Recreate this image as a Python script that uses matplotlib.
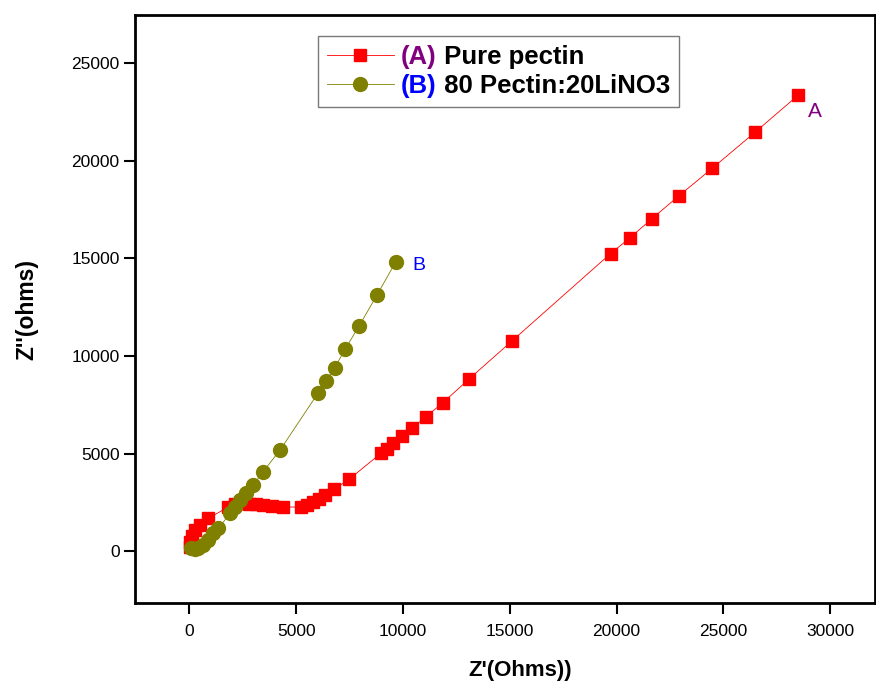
import matplotlib
matplotlib.use("Agg")
import matplotlib.pyplot as plt

plt.rcParams["font.family"] = ["Liberation Sans", "DejaVu Sans"]

# (A) Pure pectin
pure_x = [30, 50, 120, 280, 514, 890, 1800, 2150, 2450, 2800, 3100, 3450, 3850,
          4400, 5230, 5510, 5790, 6080, 6360, 6780, 7480, 8970, 9250, 9530, 9950,
          10420, 11060, 11870, 13080, 15090, 19720, 20610, 21640, 22900, 24470,
          26500, 28500]
pure_y = [200, 450, 800, 1080, 1330, 1690, 2250, 2400, 2450, 2420, 2400, 2360, 2310,
          2270, 2260, 2360, 2510, 2660, 2870, 3180, 3690, 5020, 5250, 5530, 5890,
          6300, 6880, 7610, 8810, 10760, 15250, 16040, 17020, 18190, 19610,
          21480, 23360]

# (B) 80 Pectin:20LiNO3
blend_x = [60, 250, 420, 650, 890, 1120, 1360, 1920, 2150, 2380, 2650, 2980, 3440,
           4250, 6010, 6400, 6810, 7290, 7940, 8770, 9660]
blend_y = [180, 120, 150, 310, 560, 920, 1180, 1950, 2250, 2610, 2970, 3380, 4060,
           5190, 8080, 8720, 9410, 10350, 11530, 13100, 14820]

x_ticks = [0, 5000, 10000, 15000, 20000, 25000, 30000]
y_ticks = [0, 5000, 10000, 15000, 20000, 25000]

fig = plt.figure(figsize=(8.76, 6.87), dpi=100)
ax = fig.add_axes([0.154, 0.122, 0.845, 0.856])

ax.plot(pure_x, pure_y, color="red", lw=0.6, marker="s", ms=8.5,
        mec="red", mfc="red", label="(A) Pure pectin")
ax.plot(blend_x, blend_y, color="#808000", lw=0.6, marker="o", ms=10,
        mec="#808000", mfc="#808000", label="(B) 80 Pectin:20LiNO3")

ax.set_xlim(-2550, 32100)
ax.set_ylim(-2660, 27460)
ax.set_xticks(x_ticks)
ax.set_yticks(y_ticks)
ax.tick_params(direction="out", length=8, width=1.5, labelsize=12.5,
               top=False, right=False)
ax.tick_params(axis="y", pad=3)
ax.tick_params(axis="x", pad=7)
for s in ax.spines.values():
    s.set_linewidth(2)

ax.set_xlabel("Z'(Ohms))", fontsize=16, fontweight="bold")
ax.set_ylabel("Z''(ohms)", fontsize=16.5, fontweight="bold")
ax.xaxis.set_label_coords(0.52, -0.096)
ax.yaxis.set_label_coords(-0.13, 0.5)

ax.text(28950, 22500, "A", color="#800080", fontsize=15, va="center")
ax.text(10450, 14650, "B", color="#0000ff", fontsize=14, va="center")

# legend with coloured (A)/(B) prefixes
leg = ax.legend(loc="upper left", bbox_to_anchor=(0.247, 0.965),
                prop={"weight": "bold", "size": 18.5}, frameon=True, fancybox=False,
                edgecolor="0.35", handlelength=2.6, borderpad=0.35,
                labelspacing=0.2, handletextpad=0.3, borderaxespad=0)
leg.get_frame().set_linewidth(1.0)

fig.canvas.draw()
renderer = fig.canvas.get_renderer()
prefixes = [("(A)", "#800080", " Pure pectin"), ("(B)", "#0000ff", " 80 Pectin:20LiNO3")]
for txt, (pre, col, rest) in zip(leg.get_texts(), prefixes):
    txt.set_alpha(0)
    bb = txt.get_window_extent(renderer)
    t1 = fig.text(bb.x0, bb.y0, pre, transform=None, va="bottom", ha="left",
                  color=col, fontsize=18.5, fontweight="bold")
    x1 = t1.get_window_extent(renderer).x1
    fig.text(x1, bb.y0, rest, transform=None, va="bottom", ha="left",
             color="black", fontsize=18.5, fontweight="bold")

fig.savefig("out.png", dpi=100)
